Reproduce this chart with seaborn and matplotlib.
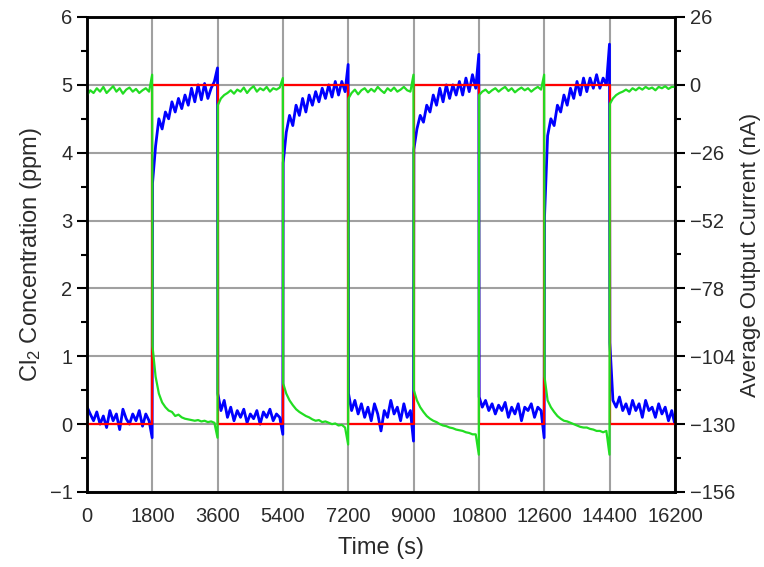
import numpy as np
import pandas as pd
import matplotlib
matplotlib.use("Agg")
import matplotlib.pyplot as plt
from matplotlib.ticker import MultipleLocator
import seaborn as sns

# ---------------- data ----------------
SEG = 1800  # s per exposure step
cl2_levels = [0, 5, 0, 5, 0, 5, 0, 5, 0]          # ppm, per 1800 s segment
sample_offsets = [5] + list(range(90, 1800, 90)) + [1795]  # s inside each segment

blue_seg0 = [0.25, 0.15, 0.05, 0.18, 0.0, 0.12, -0.05, 0.2, 0.05, 0.15, -0.08, 0.22, 0.08, 0.0, 0.15, 0.05, 0.2, -0.03, 0.15, 0.05, -0.2]
blue_seg1 = [3.55, 4.1, 4.5, 4.35, 4.6, 4.5, 4.75, 4.6, 4.8, 4.65, 4.85, 4.7, 4.95, 4.75, 5.0, 4.78, 5.02, 4.8, 4.95, 5.05, 5.25]
blue_seg2 = [0.45, 0.2, 0.35, 0.1, 0.25, 0.05, 0.2, 0.1, 0.22, 0.02, 0.15, 0.08, 0.2, 0.0, 0.18, 0.1, 0.22, 0.05, 0.15, 0.1, -0.15]
blue_seg3 = [3.85, 4.3, 4.55, 4.4, 4.7, 4.55, 4.8, 4.6, 4.85, 4.7, 4.9, 4.75, 4.95, 4.8, 5.0, 4.82, 5.05, 4.85, 5.05, 4.9, 5.3]
blue_seg4 = [0.45, 0.2, 0.35, 0.15, 0.3, 0.1, 0.25, 0.05, 0.3, 0.15, -0.1, 0.2, 0.1, 0.35, 0.15, 0.25, 0.05, 0.3, 0.1, 0.2, -0.25]
blue_seg5 = [4.05, 4.35, 4.55, 4.45, 4.7, 4.6, 4.85, 4.7, 4.95, 4.75, 5.0, 4.8, 5.0, 4.85, 5.05, 4.85, 5.1, 4.9, 5.15, 4.95, 5.45]
blue_seg6 = [0.4, 0.25, 0.35, 0.2, 0.3, 0.15, 0.28, 0.2, 0.32, 0.1, 0.25, 0.15, 0.3, 0.05, 0.25, 0.2, 0.3, 0.1, 0.25, 0.2, -0.2]
blue_seg7 = [3.05, 4.25, 4.5, 4.4, 4.7, 4.6, 4.85, 4.7, 4.95, 4.8, 5.05, 4.85, 5.1, 4.9, 5.1, 4.95, 5.15, 4.95, 5.1, 5.0, 5.6]
blue_seg8 = [1.2, 0.35, 0.25, 0.4, 0.2, 0.3, 0.15, 0.35, 0.2, 0.3, 0.1, 0.35, 0.2, 0.25, 0.1, 0.3, 0.15, 0.25, 0.05, 0.2, 0.0]

green_seg0 = [4.85, 4.92, 4.88, 4.95, 4.9, 4.97, 4.88, 4.93, 4.98, 4.9, 4.95, 4.87, 4.93, 4.96, 4.9, 4.94, 4.88, 4.92, 4.95, 4.9, 5.15]
green_seg1 = [1.15, 0.7, 0.45, 0.32, 0.25, 0.2, 0.18, 0.12, 0.14, 0.1, 0.08, 0.07, 0.06, 0.05, 0.06, 0.04, 0.05, 0.03, 0.04, 0.02, -0.2]
green_seg2 = [4.7, 4.8, 4.85, 4.88, 4.92, 4.87, 4.93, 4.9, 4.96, 4.88, 4.94, 4.98, 4.9, 4.95, 4.92, 4.97, 4.9, 4.95, 4.93, 4.96, 5.1]
green_seg3 = [0.6, 0.45, 0.35, 0.28, 0.22, 0.18, 0.15, 0.12, 0.1, 0.07, 0.05, 0.06, 0.03, 0.04, 0.02, 0.0, 0.01, -0.02, -0.01, -0.05, -0.3]
green_seg4 = [4.8, 4.88, 4.93, 4.86, 4.92, 4.95, 4.89, 4.94, 4.9, 4.97, 4.92, 4.88, 4.95, 4.91, 4.96, 4.9, 4.93, 4.97, 4.92, 4.9, 5.15]
green_seg5 = [0.5, 0.35, 0.25, 0.18, 0.12, 0.08, 0.05, 0.03, 0.0, -0.02, -0.03, -0.05, -0.06, -0.08, -0.09, -0.1, -0.12, -0.13, -0.15, -0.15, -0.45]
green_seg6 = [4.85, 4.9, 4.93, 4.88, 4.92, 4.95, 4.9, 4.94, 4.97, 4.91, 4.95, 4.89, 4.93, 4.96, 4.92, 4.95, 4.9, 4.94, 4.97, 4.93, 5.15]
green_seg7 = [0.7, 0.35, 0.25, 0.18, 0.12, 0.08, 0.05, 0.04, 0.02, 0.0, -0.02, -0.04, -0.05, -0.05, -0.07, -0.08, -0.1, -0.1, -0.12, -0.1, -0.45]
green_seg8 = [4.72, 4.8, 4.85, 4.88, 4.9, 4.93, 4.9, 4.95, 4.92, 4.96, 4.93, 4.97, 4.94, 4.96, 4.92, 4.97, 4.95, 4.98, 4.94, 4.97, 4.97]

blue_segs = [blue_seg0, blue_seg1, blue_seg2, blue_seg3, blue_seg4,
             blue_seg5, blue_seg6, blue_seg7, blue_seg8]
green_segs = [green_seg0, green_seg1, green_seg2, green_seg3, green_seg4,
              green_seg5, green_seg6, green_seg7, green_seg8]

x_ticks = [0, 1800, 3600, 5400, 7200, 9000, 10800, 12600, 14400, 16200]
left_ticks = [-1, 0, 1, 2, 3, 4, 5, 6]
right_ticks = [-156, -130, -104, -78, -52, -26, 0, 26]


def build(segs):
    t, v = [], []
    for i, seg in enumerate(segs):
        for off, val in zip(sample_offsets, seg):
            t.append(i * SEG + off)
            v.append(val)
    return pd.DataFrame({"t": t, "v": v})


df_blue = build(blue_segs)
df_green = build(green_segs)
df_red = pd.DataFrame({"t": [i * SEG for i in range(len(cl2_levels) + 1)],
                       "v": cl2_levels + [cl2_levels[-1]]})

# ---------------- style ----------------
sns.set_style("white")
plt.rcParams["font.family"] = ["Liberation Sans", "DejaVu Sans"]
plt.rcParams["mathtext.default"] = "regular"
plt.rcParams["axes.unicode_minus"] = True

fig = plt.figure(figsize=(7.64, 5.67), dpi=100)
ax = fig.add_axes([87 / 764, 1 - 492 / 567, (675 - 87) / 764, (492 - 17) / 567])

sns.lineplot(data=df_blue, x="t", y="v", ax=ax, color="#0000ff", lw=2.0,
             estimator=None, sort=False, zorder=2)
sns.lineplot(data=df_red, x="t", y="v", ax=ax, color="#ff0000", lw=1.6,
             estimator=None, drawstyle="steps-post", zorder=3)
sns.lineplot(data=df_green, x="t", y="v", ax=ax, color="#22dd22", lw=1.6,
             estimator=None, sort=False, zorder=4)

ax.set_xlim(0, 16200)
ax.set_ylim(-1, 6)
ax.set_xticks(x_ticks)
ax.set_yticks(left_ticks)
ax.xaxis.set_minor_locator(MultipleLocator(900))
ax.yaxis.set_minor_locator(MultipleLocator(0.5))
ax.grid(True, which="major", color="#a0a0a0", lw=1.5)
ax.set_axisbelow(True)

text_col = "#2a2a2a"
ax.tick_params(axis="both", which="major", direction="out", length=7, width=1.5,
               labelsize=14.5, labelcolor=text_col, color="black")
ax.tick_params(axis="both", which="minor", direction="out", length=4, width=1.5,
               color="black")
ax.tick_params(axis="x", pad=4)
ax.set_xlabel("Time (s)", fontsize=17, color=text_col, labelpad=8)
ax.set_ylabel("Cl$_2$ Concentration (ppm)", fontsize=17, color=text_col, labelpad=4)

ax2 = ax.twinx()
ax2.set_ylim(-156, 26)
ax2.set_yticks(right_ticks)
ax2.yaxis.set_minor_locator(MultipleLocator(13))
ax2.grid(False)
ax2.tick_params(axis="y", which="major", direction="out", length=7, width=1.5,
                labelsize=14.5, labelcolor=text_col, color="black")
ax2.tick_params(axis="y", which="minor", direction="out", length=4, width=1.5,
                color="black")
ax2.set_ylabel("Average Output Current (nA)", fontsize=16, color=text_col,
               labelpad=4)

for a in (ax, ax2):
    for s in a.spines.values():
        s.set_color("black")
        s.set_linewidth(1.8)
        s.set_visible(True)

fig.savefig("out.png", dpi=100)
